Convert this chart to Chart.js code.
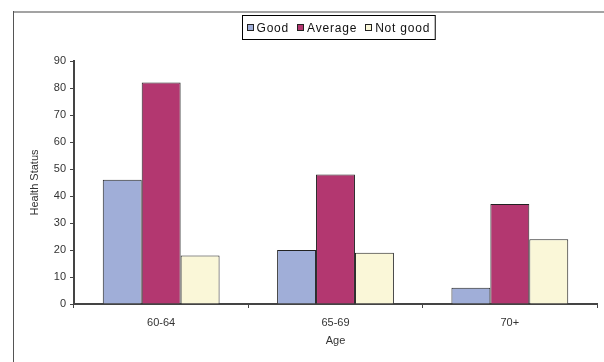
<!DOCTYPE html>
<html>
<head>
<meta charset="utf-8">
<script src="https://cdn.jsdelivr.net/npm/chart.js@4/dist/chart.umd.min.js"></script>
<style>
  html, body { margin: 0; padding: 0; background: #ffffff; }
  #wrap { width: 604px; height: 362px; position: relative; }
</style>
</head>
<body>
<div id="wrap"><canvas id="chart" width="604" height="362"></canvas></div>
<script>
// Age groups on the category axis
const ageGroups = ['60-64', '65-69', '70+'];

// Self-rated health status counts per age group
const goodValues = [46, 20, 6];
const averageValues = [82, 48, 37];
const notGoodValues = [18, 19, 24];

const seriesNames = ['Good', 'Average', 'Not good'];
const seriesColors = ['#a0aed8', '#b33770', '#faf7d8'];

// Value axis range and step
const yMin = 0;
const yMax = 90;
const yStep = 10;

const FONT = 'Liberation Sans, Arial, sans-serif';
const TEXT = '#333333';
const AXIS = '#444444';

// Outer frame lines around the chart
const framePlugin = {
  id: 'frame',
  beforeDraw(chart) {
    const ctx = chart.ctx;
    ctx.save();
    ctx.strokeStyle = '#a3a3a3';
    ctx.lineWidth = 2;
    ctx.beginPath();
    ctx.moveTo(13, 12);
    ctx.lineTo(chart.width, 12);
    ctx.stroke();
    ctx.strokeStyle = '#555555';
    ctx.lineWidth = 1;
    ctx.beginPath();
    ctx.moveTo(13.5, 11);
    ctx.lineTo(13.5, chart.height);
    ctx.stroke();
    ctx.restore();
  }
};

// Boxed legend above the plot
const boxLegendPlugin = {
  id: 'boxLegend',
  afterDraw(chart) {
    const ctx = chart.ctx;
    const sets = chart.data.datasets;
    ctx.save();
    ctx.font = '12px ' + FONT;
    ctx.letterSpacing = '0.8px';
    const sq = 7, sqGap = 3, itemGap = 8, padL = 4, padR = 5;
    const widths = sets.map(d => ctx.measureText(d.label).width);
    let total = padL + padR;
    widths.forEach((w, i) => { total += sq + sqGap + w + (i < widths.length - 1 ? itemGap : 0); });
    const boxH = 24;
    const cx = (chart.chartArea.left + chart.chartArea.right) / 2 + 3;
    const bx = Math.round(cx - total / 2) + 0.5;
    const by = 15.5;
    ctx.fillStyle = '#ffffff';
    ctx.fillRect(bx, by, total, boxH);
    ctx.strokeStyle = '#000000';
    ctx.lineWidth = 1;
    ctx.strokeRect(bx, by, total, boxH);
    let x = bx + padL;
    const cy = by + boxH / 2;
    sets.forEach((d, i) => {
      ctx.fillStyle = d.backgroundColor;
      ctx.fillRect(Math.round(x) + 0.5, Math.round(cy - sq / 2) + 0.5, sq - 1, sq - 1);
      ctx.strokeStyle = '#222222';
      ctx.strokeRect(Math.round(x) + 0.5, Math.round(cy - sq / 2) + 0.5, sq - 1, sq - 1);
      x += sq + sqGap;
      ctx.fillStyle = '#111111';
      ctx.textBaseline = 'middle';
      ctx.textAlign = 'left';
      ctx.fillText(d.label, x, cy + 1);
      x += widths[i] + itemGap;
    });
    ctx.restore();
  }
};

const seriesData = [goodValues, averageValues, notGoodValues];

new Chart(document.getElementById('chart'), {
  type: 'bar',
  data: {
    labels: ageGroups,
    datasets: seriesNames.map((name, i) => ({
      label: name,
      data: seriesData[i],
      backgroundColor: seriesColors[i],
      borderColor: '#222222',
      borderWidth: 1,
      categoryPercentage: 0.67,
      barPercentage: 1.0
    }))
  },
  options: {
    responsive: false,
    animation: false,
    devicePixelRatio: 1,
    layout: { padding: { left: 28, right: 7, top: 61, bottom: 14 } },
    plugins: {
      legend: { display: false },
      tooltip: { enabled: false },
      title: { display: false }
    },
    scales: {
      x: {
        grid: {
          offset: true,
          drawOnChartArea: false,
          drawTicks: true,
          tickLength: 4,
          color: AXIS,
          lineWidth: 1
        },
        border: { display: true, color: AXIS, width: 2 },
        ticks: {
          color: TEXT,
          font: { family: FONT, size: 11 },
          padding: 8,
          maxRotation: 0
        },
        title: {
          display: true,
          text: 'Age',
          color: TEXT,
          font: { family: FONT, size: 11 },
          padding: { top: 0, bottom: 0 }
        },
        afterFit(scale) { scale.height = 44; }
      },
      y: {
        min: yMin,
        max: yMax,
        ticks: {
          stepSize: yStep,
          color: TEXT,
          font: { family: FONT, size: 11 },
          padding: 4
        },
        grid: {
          drawOnChartArea: false,
          drawTicks: true,
          tickLength: 4,
          color: AXIS,
          lineWidth: 1
        },
        border: { display: true, color: AXIS, width: 2 },
        title: {
          display: true,
          text: 'Health Status',
          color: TEXT,
          font: { family: FONT, size: 11 },
          padding: { top: 0, bottom: 0 }
        },
        afterFit(scale) { scale.width = 46; }
      }
    }
  },
  plugins: [framePlugin, boxLegendPlugin]
});
</script>
</body>
</html>
